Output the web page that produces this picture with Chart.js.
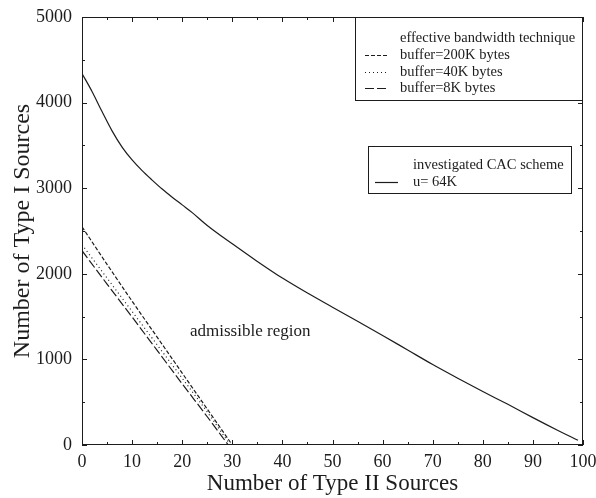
<!DOCTYPE html>
<html>
<head>
<meta charset="utf-8">
<script src="https://cdn.jsdelivr.net/npm/chart.js@4.4.0/dist/chart.umd.min.js"></script>
<style>
  html, body { margin: 0; padding: 0; background: #fff; }
</style>
</head>
<body>
<canvas id="chart" width="596" height="498"></canvas>
<script>
// Tick labels on both axes
const xTicks = [0, 10, 20, 30, 40, 50, 60, 70, 80, 90, 100];
const yTicks = [0, 1000, 2000, 3000, 4000, 5000];

// Investigated CAC scheme, u = 64K
const cacX = [0, 2, 4, 6, 8, 10, 12, 14, 16, 18, 20, 22, 25, 30, 35, 40, 45, 50, 55, 60, 65, 70, 75, 80, 85, 90, 95, 99];
const cacY = [4340, 4130, 3895, 3670, 3480, 3330, 3205, 3095, 2990, 2895, 2805, 2715, 2565, 2350, 2145, 1950, 1775, 1610, 1445, 1280, 1110, 940, 780, 625, 475, 320, 170, 55];

// Effective bandwidth technique, one line per buffer size
const buf200X = [0, 5, 10, 15, 20, 25, 30];
const buf200Y = [2550, 2110, 1680, 1260, 840, 420, 0];
const buf40X = [0, 5, 10, 15, 20, 25, 29.6];
const buf40Y = [2340, 1950, 1560, 1170, 780, 385, 0];
const buf8X = [0, 5, 10, 15, 20, 25, 29.2];
const buf8Y = [2270, 1880, 1495, 1105, 715, 330, 0];

const INK = '#1c1c1c';
const SERIF = '"Liberation Serif", "Times New Roman", serif';

function pts(xs, ys) {
  return xs.map((x, i) => ({ x: x, y: ys[i] }));
}

function series(label, xs, ys, dash) {
  return {
    label: label,
    data: pts(xs, ys),
    borderColor: INK,
    borderWidth: 1.2,
    borderDash: dash,
    pointRadius: 0,
    fill: false,
    cubicInterpolationMode: 'monotone'
  };
}

// frame with inward ticks on all four sides
const frameTicks = {
  id: 'frameTicks',
  afterDatasetsDraw(chart) {
    const { ctx, chartArea: a, scales: { x, y } } = chart;
    ctx.save();
    ctx.strokeStyle = INK;
    ctx.lineWidth = 1;
    ctx.setLineDash([]);
    ctx.strokeRect(a.left + 0.5, a.top + 0.5, a.right - a.left - 1, a.bottom - a.top - 1);
    ctx.beginPath();
    for (let v = 0; v <= 100; v += 5) {
      const px = Math.round(x.getPixelForValue(v)) + 0.5;
      const len = v % 10 === 0 ? 5 : 3;
      ctx.moveTo(px, a.bottom); ctx.lineTo(px, a.bottom - len);
      ctx.moveTo(px, a.top); ctx.lineTo(px, a.top + len);
    }
    for (let v = 0; v <= 5000; v += 500) {
      const py = Math.round(y.getPixelForValue(v)) + 0.5;
      const len = v % 1000 === 0 ? 5 : 3;
      ctx.moveTo(a.left, py); ctx.lineTo(a.left + len, py);
      ctx.moveTo(a.right, py); ctx.lineTo(a.right - len, py);
    }
    ctx.stroke();
    ctx.restore();
  }
};

// the two legend boxes and the region label
const notes = {
  id: 'notes',
  afterDraw(chart) {
    const ctx = chart.ctx;
    const a = chart.chartArea;
    const ds = chart.data.datasets;
    ctx.save();
    ctx.fillStyle = '#fff';
    ctx.strokeStyle = INK;
    ctx.lineWidth = 1;

    // effective bandwidth box, sharing the frame's top and right edges
    const bx = 355, by = a.top, bw = a.right - 355, bh = 100 - a.top;
    ctx.fillRect(bx, by, bw, bh);
    ctx.strokeRect(bx + 0.5, by + 0.5, bw - 1, bh);
    // CAC box
    ctx.fillRect(368, 146, 204, 48);
    ctx.strokeRect(368.5, 146.5, 203, 47);

    ctx.fillStyle = INK;
    ctx.font = '14.5px ' + SERIF;
    ctx.textBaseline = 'middle';
    ctx.textAlign = 'left';
    ctx.fillText('effective bandwidth technique', 400, 38);
    const rows = [[1, 'buffer=200K bytes', 55], [2, 'buffer=40K bytes', 72], [3, 'buffer=8K bytes', 88]];
    rows.forEach(([i, text, yy]) => {
      ctx.fillText(text, 400, yy);
      ctx.beginPath();
      ctx.setLineDash(ds[i].borderDash || []);
      ctx.lineWidth = 1.2;
      ctx.moveTo(365, yy + 0.5);
      ctx.lineTo(388, yy + 0.5);
      ctx.stroke();
    });

    ctx.setLineDash([]);
    ctx.fillText('investigated CAC scheme', 413, 165);
    ctx.fillText('u= 64K', 413, 182);
    ctx.beginPath();
    ctx.moveTo(375, 182.5);
    ctx.lineTo(398, 182.5);
    ctx.stroke();

    ctx.font = '17px ' + SERIF;
    ctx.fillText('admissible region', 190, 332);
    ctx.restore();
  }
};

new Chart(document.getElementById('chart'), {
  type: 'line',
  data: {
    datasets: [
      series('u= 64K', cacX, cacY, []),
      series('buffer=200K bytes', buf200X, buf200Y, [4, 2]),
      series('buffer=40K bytes', buf40X, buf40Y, [1, 3]),
      series('buffer=8K bytes', buf8X, buf8Y, [9, 3])
    ]
  },
  options: {
    responsive: false,
    devicePixelRatio: 1,
    animation: false,
    layout: { padding: { top: 17, right: 13, left: 0, bottom: 0 } },
    plugins: { legend: { display: false }, tooltip: { enabled: false } },
    scales: {
      x: {
        type: 'linear',
        min: 0,
        max: 100,
        afterFit(s) { s.height = 53; s.paddingLeft = 0; s.paddingRight = 0; },
        afterBuildTicks(s) { s.ticks = xTicks.map(v => ({ value: v })); },
        grid: { display: false, drawTicks: false },
        border: { display: false },
        ticks: { color: INK, padding: 6, font: { family: SERIF, size: 18 }, callback: v => String(v) },
        title: {
          display: true,
          text: 'Number of Type II Sources',
          color: INK,
          padding: { top: 0, bottom: 0 },
          font: { family: SERIF, size: 23 }
        }
      },
      y: {
        type: 'linear',
        min: 0,
        max: 5000,
        afterFit(s) { s.width = 82; s.paddingTop = 0; s.paddingBottom = 0; },
        afterBuildTicks(s) { s.ticks = yTicks.map(v => ({ value: v })); },
        grid: { display: false, drawTicks: false },
        border: { display: false },
        ticks: { color: INK, padding: 10, font: { family: SERIF, size: 18 }, callback: v => String(v) },
        title: {
          display: true,
          text: 'Number of Type I Sources',
          color: INK,
          padding: { top: 8, bottom: 0 },
          font: { family: SERIF, size: 24 }
        }
      }
    }
  },
  plugins: [frameTicks, notes]
});
</script>
</body>
</html>
